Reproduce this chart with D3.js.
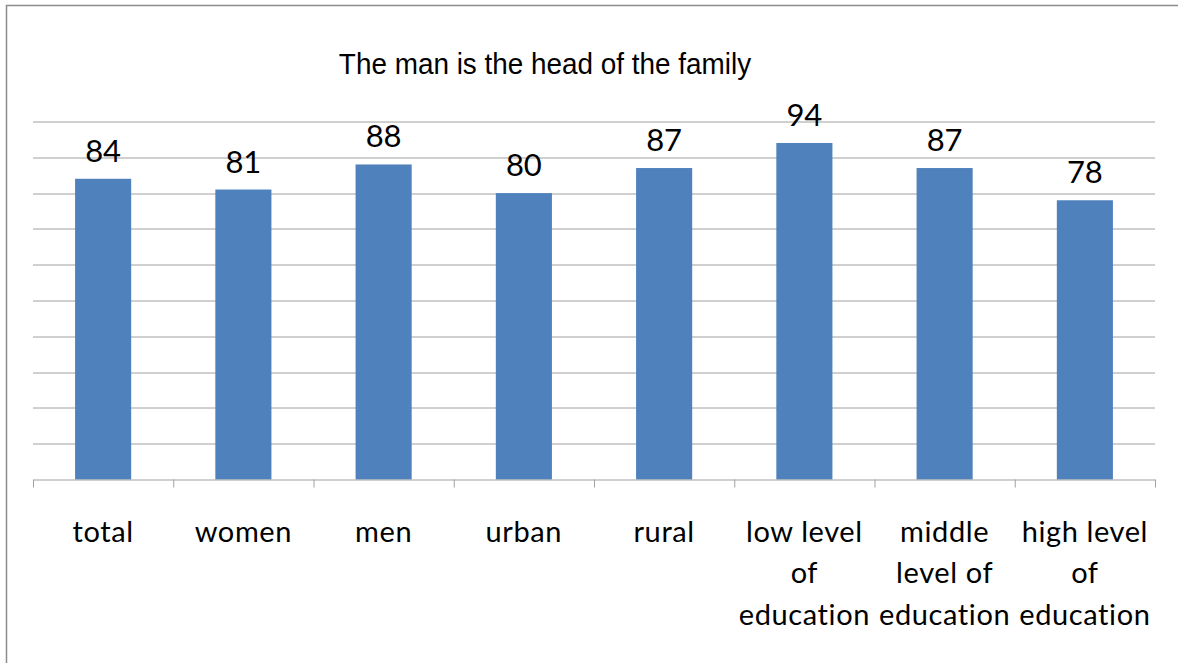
<!DOCTYPE html>
<html>
<head>
<meta charset="utf-8">
<script src="https://cdn.jsdelivr.net/npm/d3@7"></script>
<style>
  html, body { margin: 0; padding: 0; background: #fff; }
  svg { display: block; }
</style>
</head>
<body>
<div id="chart-area"></div>
<script>
// values
const chartTitle = "The man is the head of the family";
const categories = [
  "total",
  "women",
  "men",
  "urban",
  "rural",
  "low level\nof\neducation",
  "middle\nlevel of\neducation",
  "high level\nof\neducation"
];
const values = [84, 81, 88, 80, 87, 94, 87, 78];
const yTicks = [0, 10, 20, 30, 40, 50, 60, 70, 80, 90, 100];

const W = 1178, H = 663;
const margin = { top: 121.5, right: 23, bottom: 183.5, left: 33 };
const width = W - margin.left - margin.right;
const height = H - margin.top - margin.bottom;

const svg = d3.select("#chart-area")
  .append("svg")
  .attr("width", W)
  .attr("height", H);

// outer chart border (runs off right/bottom edge in the original)
svg.append("rect")
  .attr("x", 6.5)
  .attr("y", 5.5)
  .attr("width", W + 10)
  .attr("height", H + 10)
  .attr("fill", "none")
  .attr("stroke", "#8c8c8c")
  .attr("stroke-width", 1.5);

// title looks slightly tall/narrow in the original, so squeeze it a bit
svg.append("text")
  .attr("transform", "translate(545,74) scale(0.93,1)")
  .attr("text-anchor", "middle")
  .style("font-family", "'Liberation Sans', Arial, sans-serif")
  .style("font-size", "30px")
  .style("fill", "#000")
  .text(chartTitle);

const g = svg.append("g")
  .attr("transform", `translate(${margin.left},${margin.top})`);

const x = d3.scaleBand()
  .domain(categories)
  .range([0, width])
  .paddingInner(0.6)
  .paddingOuter(0.3);

const y = d3.scaleLinear()
  .domain([0, 100])
  .range([height, 0]);

// gridlines
g.selectAll(".grid")
  .data(yTicks.filter(d => d > 0))
  .enter()
  .append("line")
  .attr("class", "grid")
  .attr("x1", 0)
  .attr("x2", width)
  .attr("y1", d => Math.round(y(d)) + 0.5)
  .attr("y2", d => Math.round(y(d)) + 0.5)
  .attr("stroke", "#a0a0a0")
  .attr("stroke-width", 1);

// bars
g.selectAll(".bar")
  .data(values)
  .enter()
  .append("rect")
  .attr("class", "bar")
  .attr("x", (d, i) => x(categories[i]))
  .attr("width", x.bandwidth())
  .attr("y", d => y(d))
  .attr("height", d => height - y(d))
  .attr("fill", "#4f81bd");

// value labels
g.selectAll(".val")
  .data(values)
  .enter()
  .append("text")
  .attr("class", "val")
  .attr("x", (d, i) => x(categories[i]) + x.bandwidth() / 2)
  .attr("y", d => y(d) - 17)
  .attr("text-anchor", "middle")
  .style("font-family", "Lato, 'Open Sans', sans-serif")
  .style("font-size", "31px")
  .style("fill", "#000")
  .text(d => d);

// x axis: band boundaries as ticks
const xAxis = d3.axisBottom(d3.scaleLinear().domain([0, categories.length]).range([0, width]))
  .tickValues(d3.range(categories.length + 1))
  .tickSize(8)
  .tickFormat("");

const xAxisGroup = g.append("g")
  .attr("class", "x-axis")
  .attr("transform", `translate(0,${height})`)
  .call(xAxis);
xAxisGroup.select(".domain").attr("stroke", "#a0a0a0").attr("d", `M0.5,0.5H${width + 0.5}`);
xAxisGroup.selectAll("line").attr("stroke", "#a0a0a0");

// category labels, manually broken into lines
const catLabels = g.selectAll(".cat")
  .data(categories)
  .enter()
  .append("text")
  .attr("class", "cat")
  .attr("text-anchor", "middle")
  .attr("transform", d => `translate(${x(d) + x.bandwidth() / 2},${height + 62})`)
  .style("font-family", "Lato, 'Open Sans', sans-serif")
  .style("font-size", "29px")
  .style("letter-spacing", "0.6px")
  .style("fill", "#000");

catLabels.each(function(d) {
  const lines = d.split("\n");
  d3.select(this).selectAll("tspan")
    .data(lines)
    .enter()
    .append("tspan")
    .attr("x", 0)
    .attr("y", (l, i) => i * 41.7)
    .text(l => l);
});
</script>
</body>
</html>
